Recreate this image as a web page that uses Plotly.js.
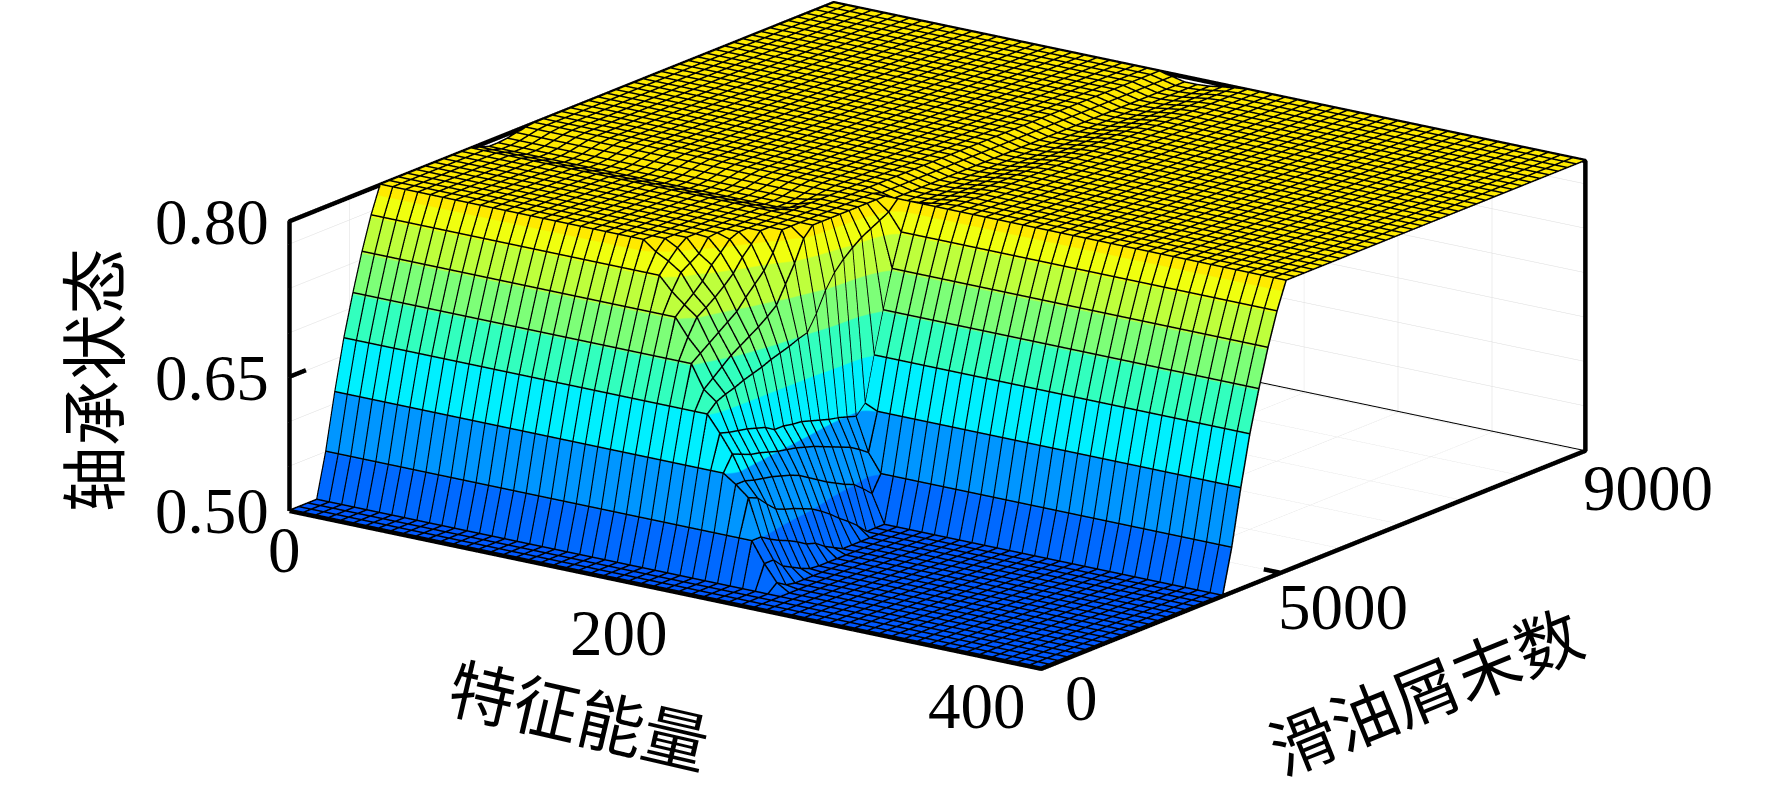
<!DOCTYPE html>
<html><head><meta charset="utf-8">
<script src="https://cdn.plot.ly/plotly-3.0.1.min.js"></script>
<style>html,body{margin:0;padding:0;background:#fff}#g{width:1772px;height:788px}</style>
</head><body><div id="g"></div>
<script>
const xVals=[0,133.33,140,146.67,153.33,160,166.67,173.33,180,186.67,193.33,200,206.67,213.33,220,226.67,233.33,240,246.67,400];
const yVals=[0,450,600,750,900,1050,1200,1350,1500,1650,1800,1950,2100,2250,2400,2550,2700,2850,3000,3150,3300,3450,3600,3750,3900,4050,4200,9000];
// one list per x value, read along y
const zCol00=[.5,.5,.546,.604,.656,.699,.738,.772,.8,.8,.8,.8,.8,.8,.8,.8,.8,.8,.8,.797,.794,.794,.795,.797,.799,.8,.8,.8];
const zCol20=zCol00, zCol21=zCol00;
const zCol22=[.5,.5,.546,.604,.656,.699,.738,.772,.79,.8,.8,.8,.8,.8,.8,.8,.8,.8,.8,.797,.794,.794,.795,.797,.799,.8,.8,.8];
const zCol23=[.5,.5,.546,.604,.656,.699,.738,.772,.783,.793,.8,.8,.8,.8,.8,.8,.8,.8,.8,.797,.794,.794,.795,.797,.799,.8,.8,.8];
const zCol24=[.5,.5,.546,.604,.656,.699,.738,.758,.774,.78,.786,.799,.8,.8,.8,.8,.8,.8,.8,.798,.796,.796,.797,.798,.799,.8,.8,.8];
const zCol25=[.5,.5,.546,.604,.656,.699,.738,.747,.755,.764,.777,.786,.796,.8,.8,.8,.8,.8,.8,.8,.8,.8,.8,.8,.8,.8,.8,.8];
const zCol26=[.5,.5,.546,.604,.656,.699,.72,.737,.743,.75,.758,.767,.78,.79,.8,.8,.8,.8,.8,.8,.8,.8,.8,.8,.8,.8,.8,.8];
const zCol27=[.5,.5,.546,.604,.656,.699,.706,.713,.72,.727,.734,.745,.755,.765,.78,.8,.8,.8,.8,.8,.8,.8,.8,.8,.8,.8,.797,.797];
const zCol28=[.5,.5,.546,.604,.656,.675,.683,.691,.699,.705,.711,.717,.724,.732,.75,.768,.79,.8,.8,.8,.8,.8,.8,.8,.8,.8,.794,.794];
const zCol29=[.5,.5,.546,.604,.656,.665,.669,.672,.676,.679,.682,.686,.689,.692,.696,.699,.715,.735,.75,.76,.768,.775,.78,.785,.79,.8,.794,.794];
const zCol30=[.5,.5,.546,.604,.639,.636,.634,.632,.629,.626,.62,.62,.618,.617,.614,.611,.608,.606,.603,.60,.61,.656,.699,.738,.772,.8,.795,.795];
const zCol31=[.5,.5,.546,.604,.62,.616,.612,.61,.607,.604,.602,.60,.597,.594,.59,.586,.582,.578,.572,.565,.604,.656,.699,.738,.772,.8,.797,.797];
const zCol32=[.5,.5,.546,.595,.595,.592,.59,.588,.585,.582,.578,.572,.566,.56,.555,.55,.546,.538,.529,.546,.604,.656,.699,.738,.772,.8,.799,.799];
const zCol33=[.5,.5,.546,.584,.58,.57,.561,.557,.554,.55,.546,.54,.533,.525,.518,.51,.5,.5,.5,.546,.604,.656,.699,.738,.772,.8,.8,.8];
const zCol34=[.5,.5,.546,.546,.54,.535,.531,.526,.52,.517,.51,.505,.5,.5,.5,.5,.5,.5,.5,.546,.604,.656,.699,.738,.772,.8,.8,.8];
const zCol35=[.5,.5,.525,.525,.515,.51,.505,.501,.5,.5,.5,.5,.5,.5,.5,.5,.5,.5,.5,.546,.604,.656,.699,.738,.772,.8,.8,.8];
const zCol36=[.5,.5,.508,.502,.5,.5,.5,.5,.5,.5,.5,.5,.5,.5,.5,.5,.5,.5,.5,.546,.604,.656,.699,.738,.772,.8,.8,.8];
const zCol37=[.5,.5,.5,.5,.5,.5,.5,.5,.5,.5,.5,.5,.5,.5,.5,.5,.5,.5,.5,.546,.604,.656,.699,.738,.772,.8,.8,.8];
const zCol60=zCol37;
const zColumns=[zCol00,zCol20,zCol21,zCol22,zCol23,zCol24,zCol25,zCol26,zCol27,zCol28,zCol29,zCol30,zCol31,zCol32,zCol33,zCol34,zCol35,zCol36,zCol37,zCol60];
const zRows=yVals.map((_,j)=>zColumns.map(c=>c[j]));

const xRange=[0,400], yRange=[0,9000], zRange=[.5,.8];
const xAxisRange=[-.4,400.4], yAxisRange=[-9,9009], zAxisRange=[.4985,.8015];
const bandEdges=[0,.005,.154,.348,.52,.662,.793,.907,.973,1];
const bandColors=['#0058ff','#0069ff','#0096ff','#00f0ff','#32ffbe','#7dff78','#beff3c','#f0ff0f','#ffea00'];
const colorscale=[];
bandColors.forEach((c,i)=>{colorscale.push([bandEdges[i],c]);colorscale.push([bandEdges[i+1],c]);});

const xTitle='特征能量', yTitle='滑油屑末数', zTitle='轴承状态';
const xTickVals=[0,200,400], xTickText=['0','200','400'];
const yTickVals=[0,3960,9000], yTickText=['0','5000','9000'];
const zTickVals=[.5,.639,.8], zTickText=['0.50','0.65','0.80'];
const xGrid=[0,50,100,150,200,250,300,350,400];
const yGrid=[0,1000,2000,3000,4000,5000,6000,7000,8000,9000];
const zGrid=[.5,.546,.592,.638,.684,.73,.776,.8];
const meshCellsX=60, meshCellsY=60, meshLift=.0008;

const [x0,x1]=xRange,[y0,y1]=yRange,[z0,z1]=zRange;
const boxX=[x0,x0,x0,x1,x1,x1,x0], boxY=[y0,y0,y1,y1,y1,y0,y0], boxZ=[z0,z1,z1,z1,z0,z0,z0];
const lineTrace=(x,y,z,w)=>({type:'scatter3d',mode:'lines',x,y,z,line:{color:'#000',width:w},hoverinfo:'skip',showlegend:false});

// wire mesh laid on the surface, read back from the z table
const seat=(a,v)=>{let i=0;while(i<a.length-2&&a[i+1]<v)i++;return [i,(v-a[i])/(a[i+1]-a[i])];};
const zAt=(x,y)=>{const [i,u]=seat(xVals,x),[j,v]=seat(yVals,y);
  return (zRows[j][i]*(1-u)+zRows[j][i+1]*u)*(1-v)+(zRows[j+1][i]*(1-u)+zRows[j+1][i+1]*u)*v;};
const mx=[],my=[],mz=[];
for(let n=0;n<=meshCellsX;n++){const x=x1*n/meshCellsX;
  yVals.forEach(y=>{mx.push(x);my.push(y);mz.push(zAt(x,y)+meshLift);});mx.push(null);my.push(null);mz.push(null);}
for(let k=0;k<=meshCellsY;k++){const y=y1*k/meshCellsY;
  xVals.forEach(x=>{mx.push(x);my.push(y);mz.push(zAt(x,y)+meshLift);});mx.push(null);my.push(null);mz.push(null);}

const surf={type:'surface',x:xVals,y:yVals,z:zRows,colorscale,cmin:z0,cmax:z1,showscale:false,hoverinfo:'skip',
 lighting:{ambient:1,diffuse:0,specular:0,roughness:1,fresnel:0},
 contours:{x:{show:false,highlight:false},y:{show:false,highlight:false},z:{show:false,highlight:false}}};

const tickFont={family:'"Liberation Serif",serif',size:65,color:'#000'};
const cjkFont={family:'"Noto Sans CJK SC",sans-serif',size:66,color:'#000'};
const note=(x,y,z,text,xs,ys,font,ang)=>({x,y,z,text,showarrow:false,xshift:xs,yshift:ys,font,textangle:ang||0,xanchor:'center',yanchor:'middle'});
const annos=[
 note(xTickVals[0],y0,z0,xTickText[0],-5,-39,tickFont),
 note(xTickVals[1],y0,z0,xTickText[1],-46,-43,tickFont),
 note(xTickVals[2],y0,z0,xTickText[2],-64,-37,tickFont),
 note(x1,yTickVals[0],z0,yTickText[0],40,-29,tickFont),
 note(x1,yTickVals[1],z0,yTickText[1],62,-34,tickFont),
 note(x1,yTickVals[2],z0,yTickText[2],63,-37,tickFont),
 note(x0,y0,zTickVals[0],zTickText[0],-78,0,tickFont),
 note(x0,y0,zTickVals[1],zTickText[1],-78,-1,tickFont),
 note(x0,y0,zTickVals[2],zTickText[2],-78,-1,tickFont),
 note(200,y0,z0,xTitle,-85,-122,cjkFont,13),
 note(x1,3960,z0,yTitle,143,-115,cjkFont,-22),
 note(x0,y0,.64,zTitle,-200,-5,cjkFont,-90)
];
const axis=(range,vals)=>({range,tickmode:'array',tickvals:vals,ticktext:vals.map(()=>''),showticklabels:false,
  title:{text:''},showgrid:true,gridcolor:'#dcdcdc',gridwidth:1,zeroline:false,showline:false,ticks:'',
  showbackground:false,showspikes:false,autorange:false});

const r=4, cx=-.081, cy=-.111, cz=-.141;
const layout={width:1772,height:788,margin:{l:0,r:0,t:0,b:0},paper_bgcolor:'#fff',showlegend:false,
 scene:{domain:{x:[0,1],y:[0,1]},aspectmode:'manual',aspectratio:{x:2.36,y:2.36,z:.776},
  camera:{projection:{type:'orthographic'},up:{x:0,y:0,z:1},center:{x:cx,y:cy,z:cz},eye:{x:cx+.561*r,y:cy-.775*r,z:cz+.29*r}},
  xaxis:axis(xAxisRange,xGrid),yaxis:axis(yAxisRange,yGrid),zaxis:axis(zAxisRange,zGrid),annotations:annos}};

const traces=[surf,
 lineTrace(mx,my,mz,3),
 lineTrace(boxX,boxY,boxZ,9),
 lineTrace([x0,x1],[y1,y1],[z0,z0],2),
 lineTrace([x0,x0],[y0,y0+270],[zTickVals[1],zTickVals[1]],9),
 lineTrace([x1,x1-9],[yTickVals[1],yTickVals[1]],[z0,z0],9)];
Plotly.newPlot('g',traces,layout,{displayModeBar:false});
</script></body></html>
